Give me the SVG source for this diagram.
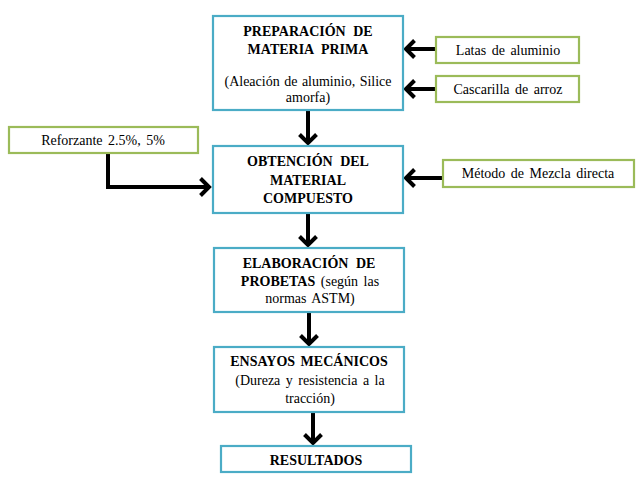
<svg xmlns="http://www.w3.org/2000/svg" width="643" height="487" viewBox="0 0 643 487">
<style>
.main{fill:#fff;stroke:#4BACC6;stroke-width:2.2}
.inp{fill:#fff;stroke:#9BBB59;stroke-width:2.2}
text{font-family:"Liberation Serif","Times New Roman",serif;font-size:14px;fill:#000;text-anchor:middle;word-spacing:2px}
.b{font-weight:bold;word-spacing:4px}
.c{fill:none;stroke:#000;stroke-width:4}
</style>
<defs>
<marker id="ah" markerUnits="userSpaceOnUse" markerWidth="20" markerHeight="20" refX="0" refY="0" orient="auto" overflow="visible">
<path d="M -8.5 -8.5 L 0 0 L -8.5 8.5" fill="none" stroke="#000" stroke-width="4" stroke-linejoin="miter"/>
</marker>
</defs>
<rect width="643" height="487" fill="#fff"/>
<g id="connectors">
<line class="c" x1="436" y1="49" x2="406" y2="49" marker-end="url(#ah)"/>
<line class="c" x1="436" y1="89" x2="406" y2="89" marker-end="url(#ah)"/>
<line class="c" x1="443" y1="178" x2="406" y2="178" marker-end="url(#ah)"/>
<line class="c" x1="308" y1="111" x2="308" y2="143" marker-end="url(#ah)"/>
<path class="c" d="M108 154 V187 H209" marker-end="url(#ah)"/>
<line class="c" x1="308" y1="214" x2="308" y2="245" marker-end="url(#ah)"/>
<line class="c" x1="309" y1="313" x2="309" y2="344" marker-end="url(#ah)"/>
<line class="c" x1="313" y1="413" x2="313" y2="443" marker-end="url(#ah)"/>
</g>
<g id="n1">
<rect class="main" x="213" y="16" width="190" height="94"/>
<text class="b" x="308" y="36">PREPARACIÓN DE</text>
<text class="b" x="308" y="54">MATERIA PRIMA</text>
<text x="308" y="86" style="word-spacing:1px">(Aleación de aluminio, Silice</text>
<text x="308" y="102">amorfa)</text>
</g>
<g id="latas">
<rect class="inp" x="436" y="37" width="143" height="26"/>
<text x="508" y="55">Latas de aluminio</text>
</g>
<g id="cascarilla">
<rect class="inp" x="436" y="76" width="143" height="26"/>
<text x="508" y="94">Cascarilla de arroz</text>
</g>
<g id="n2">
<rect class="main" x="213" y="146" width="190" height="67"/>
<text class="b" x="308" y="166">OBTENCIÓN DEL</text>
<text class="b" x="308" y="185">MATERIAL</text>
<text class="b" x="308" y="203">COMPUESTO</text>
</g>
<g id="reforzante">
<rect class="inp" x="9" y="127" width="189" height="26"/>
<text x="103" y="145">Reforzante 2.5%, 5%</text>
</g>
<g id="metodo">
<rect class="inp" x="443" y="160" width="191" height="27"/>
<text x="538" y="178">Método de Mezcla directa</text>
</g>
<g id="n3">
<rect class="main" x="214" y="248" width="190" height="64"/>
<text class="b" x="309" y="268">ELABORACIÓN DE</text>
<text x="310" y="286"><tspan class="b">PROBETAS</tspan> (según las</text>
<text x="310" y="303">normas ASTM)</text>
</g>
<g id="n4">
<rect class="main" x="214" y="347" width="190" height="65"/>
<text class="b" x="309" y="366" style="word-spacing:2px">ENSAYOS MECÁNICOS</text>
<text x="310" y="385">(Dureza y resistencia a la</text>
<text x="310" y="403">tracción)</text>
</g>
<g id="n5">
<rect class="main" x="221" y="446" width="190" height="26"/>
<text class="b" x="316" y="465">RESULTADOS</text>
</g>
</svg>
